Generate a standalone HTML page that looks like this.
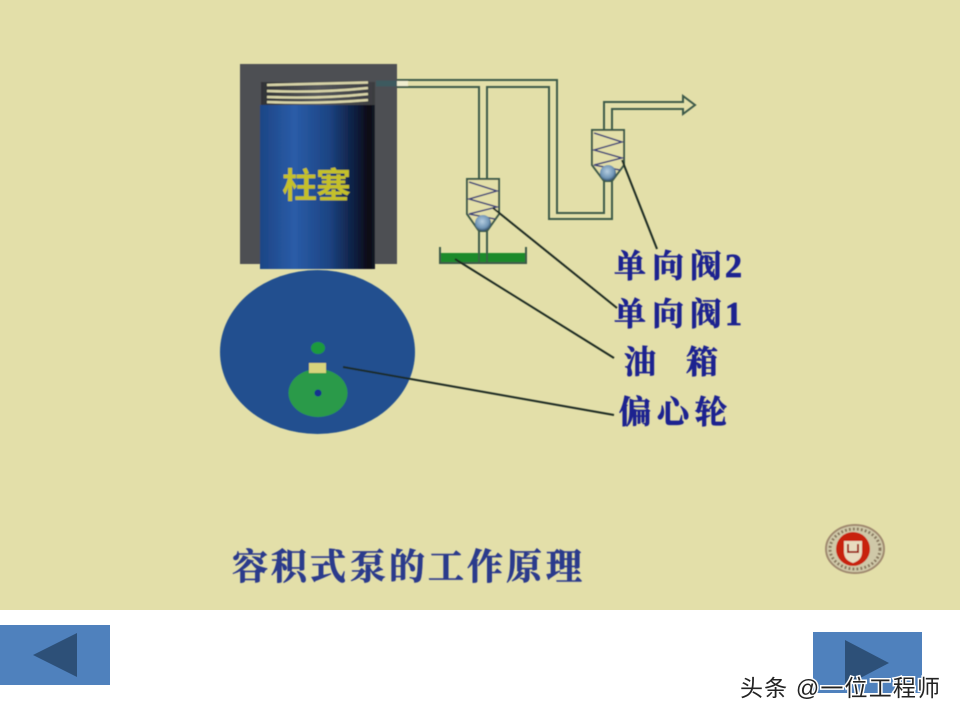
<!DOCTYPE html>
<html><head><meta charset="utf-8"><style>
html,body{margin:0;padding:0;background:#fff;width:960px;height:720px;overflow:hidden}
svg{display:block}
.lb{font-family:"Liberation Serif","Noto Serif CJK SC",serif;font-weight:700;fill:#1c2490;stroke:#1c2490;stroke-width:.7px;font-size:32px}
</style></head><body>
<svg width="960" height="720" viewBox="0 0 960 720" xmlns="http://www.w3.org/2000/svg">
<defs>
<linearGradient id="pl" x1="0" x2="1" y1="0" y2="0">
<stop offset="0" stop-color="#1c4585"/><stop offset=".3" stop-color="#2a5ca8"/><stop offset=".6" stop-color="#1c4483"/><stop offset=".85" stop-color="#0c1a38"/><stop offset=".95" stop-color="#070a12"/><stop offset="1" stop-color="#151c2a"/>
</linearGradient>
<linearGradient id="pl2" x1="0" x2="1" y1="0" y2="0">
<stop offset="0" stop-color="#303236"/><stop offset=".5" stop-color="#55575a"/><stop offset="1" stop-color="#3a3c40"/>
</linearGradient>
<radialGradient id="ball" cx=".45" cy=".4" r=".6"><stop offset="0" stop-color="#b5cde0"/><stop offset=".7" stop-color="#7095b5"/><stop offset="1" stop-color="#34506a"/></radialGradient>
<filter id="b" x="-5%" y="-5%" width="110%" height="110%"><feGaussianBlur stdDeviation="0.6"/></filter>
</defs>
<rect width="960" height="610" fill="#e3dfa9"/>
<rect y="610" width="960" height="110" fill="#fff"/>
<rect x="0" y="625" width="110" height="60" fill="#4f81bd"/>
<polygon points="33,655 77,633 77,677" fill="#2d5078"/>
<rect x="813" y="632" width="109" height="61" fill="#4f81bd"/>
<polygon points="845,640 889,663 845,686" fill="#2d5078"/>
<g filter="url(#b)">
<!-- cylinder -->
<rect x="240" y="64" width="157" height="200" fill="#4d5052"/>
<rect x="261" y="82" width="114" height="24" fill="url(#pl2)"/>
<g stroke="#d8d4a8" stroke-width="2.400" fill="none">
<path d="M267 85 L368 82.500"/><path d="M267 91 Q320 93 368 88"/><path d="M267 97 Q320 99 368 94"/><path d="M267 102 Q320 104 368 100"/>
</g>
<rect x="260" y="105" width="115" height="164" fill="url(#pl)"/>
<!-- pipes -->
<g fill="none" stroke="#3e5a4a" stroke-width="2">
<path d="M397 80 H557 V213 H604 V180"/>
<path d="M397 87 H479 V180"/>
<path d="M487 180 V87 H549 V219 H612 V180"/>
<path d="M604 130 V102 H683 V96 L695 105 L683 114 V109 H612 V130"/>
<path d="M479 231 V262 M487 231 V262"/>
</g>
<path d="M376 83.500 H397" stroke="#3d5a5e" stroke-width="6"/>
<path d="M397 83.500 H408" stroke="#f0eed0" stroke-width="5" fill="none"/>
<!-- valve 2 -->
<path d="M592 130 H624 V165 L612 181 H604 L592 165 Z" fill="#e3dfa9" stroke="#3e5a4a" stroke-width="2"/>
<path d="M594 133 L622 142 L594 150 L622 158 L594 165 L620 170" fill="none" stroke="#3a3f78" stroke-width="1.500"/>
<circle cx="608" cy="173" r="8" fill="url(#ball)"/>
<!-- valve 1 -->
<path d="M467 179 H499 V214 L487 231 H479 L467 214 Z" fill="#e3dfa9" stroke="#3e5a4a" stroke-width="2"/>
<path d="M469 182 L497 191 L469 199 L497 207 L469 214 L495 219" fill="none" stroke="#3a3f78" stroke-width="1.500"/>
<circle cx="483" cy="223" r="8" fill="url(#ball)"/>
<!-- tank -->
<rect x="440" y="253" width="86" height="10" fill="#1f8a2c"/>
<path d="M440 247 V263 H526 V247" fill="none" stroke="#3e5a4a" stroke-width="2"/>
<path d="M479 253 V263 M487 253 V263" stroke="#3e5a4a" stroke-width="1.500"/>
<!-- cam -->
<ellipse cx="317.500" cy="352" rx="97.500" ry="82" fill="#22508f"/>
<ellipse cx="318" cy="348" rx="7" ry="6" fill="#1f9a3c"/>
<ellipse cx="318" cy="393" rx="29.500" ry="24" fill="#2a9a48"/>
<rect x="309" y="363" width="17" height="10" fill="#d8d47c"/>
<circle cx="318" cy="393" r="3.500" fill="#12308f"/>
<!-- leaders -->
<g stroke="#1d2a22" stroke-width="2" fill="none">
<path d="M622 160 L657 249"/>
<path d="M493 208 L617 308"/>
<path d="M455 259 L614 358"/>
<path d="M343 367 L614 415"/>
</g>
<!-- labels -->
<text x="282 316" y="198" font-size="35" font-weight="700" fill="#c4c02c" font-family="'Liberation Sans','Noto Sans CJK SC',sans-serif">柱塞</text>
<text class="lb" x="614 652 690" y="277">单向阀</text><text class="lb" x="725" y="277" style="font-size:34px">2</text>
<text class="lb" x="614 652 690" y="325">单向阀</text><text class="lb" x="725" y="325" style="font-size:34px">1</text>
<text class="lb" x="624 686" y="373">油箱</text>
<text class="lb" x="619 657 695" y="423">偏心轮</text>
<text class="lb" x="232 271 310 350 389 428 467 506 546" y="579" style="font-size:36px;fill:#2b3a8c;stroke:#2b3a8c;stroke-width:.6px">容积式泵的工作原理</text>
<!-- logo -->
<ellipse cx="855" cy="549" rx="29" ry="24" fill="#cfc8a8" stroke="#a08a70" stroke-width="2"/>
<ellipse cx="855" cy="549" rx="25" ry="20" fill="none" stroke="#8a7a60" stroke-width="3" stroke-dasharray="2 2"/>
<circle cx="853" cy="549" r="17" fill="#c8200f"/>
<path d="M844 541 H862 V552 Q862 560 853 563 Q844 560 844 552 Z" fill="#e8dcc0"/>
<path d="M848 544 V552 H858 V544" fill="none" stroke="#a02010" stroke-width="2"/>
</g>
<!-- watermark -->
<text x="740" y="696" font-size="23" fill="#222" stroke="#fff" stroke-width="3" paint-order="stroke" font-family="'Liberation Sans','Noto Sans CJK SC',sans-serif" textLength="200" lengthAdjust="spacing">头条 @一位工程师</text>
</svg>
</body></html>
